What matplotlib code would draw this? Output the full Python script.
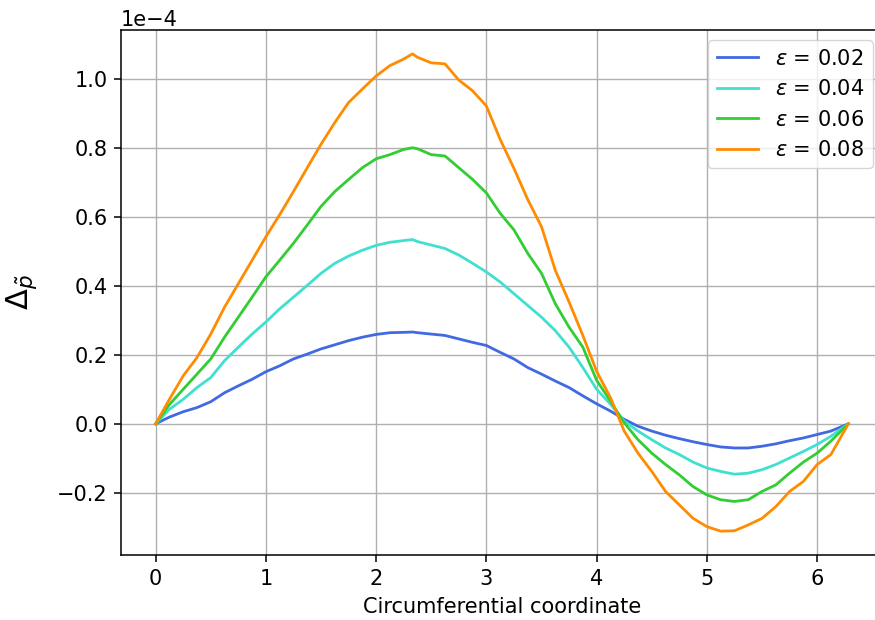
import numpy as np
import matplotlib
matplotlib.use("Agg")
import matplotlib.pyplot as plt

# circumferential coordinate samples
theta = [0.0, 0.125, 0.25, 0.375, 0.5, 0.625, 0.75, 0.875, 1.0, 1.125, 1.25, 1.375, 1.5,
         1.625, 1.75, 1.875, 2.0, 2.125, 2.25, 2.33, 2.375, 2.5, 2.625, 2.75, 2.875, 3.0,
         3.125, 3.25, 3.375, 3.5, 3.625, 3.75, 3.875, 4.0, 4.125, 4.25, 4.375, 4.5, 4.625,
         4.75, 4.875, 5.0, 5.125, 5.25, 5.375, 5.5, 5.625, 5.75, 5.875, 6.0, 6.125, 6.2832]

# values in units of 1e-4
eps_002 = [0.0, 0.0195, 0.035, 0.047, 0.064, 0.090, 0.110, 0.129, 0.151, 0.168, 0.188, 0.202, 0.217,
           0.229, 0.241, 0.251, 0.259, 0.264, 0.265, 0.266, 0.264, 0.260, 0.256, 0.246, 0.236, 0.227,
           0.207, 0.188, 0.163, 0.144, 0.124, 0.105, 0.081, 0.058, 0.037, 0.013, -0.007, -0.021, -0.033,
           -0.043, -0.052, -0.060, -0.067, -0.070, -0.070, -0.065, -0.058, -0.049, -0.041, -0.031, -0.021, 0.0]
eps_004 = [0.0, 0.042, 0.071, 0.105, 0.134, 0.183, 0.222, 0.260, 0.295, 0.333, 0.367, 0.401, 0.436,
           0.465, 0.486, 0.503, 0.517, 0.526, 0.531, 0.534, 0.528, 0.518, 0.508, 0.489, 0.465, 0.440,
           0.411, 0.377, 0.343, 0.309, 0.270, 0.222, 0.163, 0.100, 0.057, 0.008, -0.021, -0.046, -0.070,
           -0.089, -0.111, -0.128, -0.138, -0.146, -0.143, -0.133, -0.118, -0.099, -0.080, -0.060, -0.036, 0.0]
eps_006 = [0.0, 0.056, 0.100, 0.144, 0.188, 0.251, 0.309, 0.367, 0.426, 0.474, 0.523, 0.576, 0.630,
           0.673, 0.708, 0.742, 0.768, 0.780, 0.795, 0.800, 0.797, 0.780, 0.776, 0.742, 0.708, 0.669,
           0.610, 0.562, 0.494, 0.436, 0.348, 0.280, 0.222, 0.126, 0.066, 0.003, -0.046, -0.085, -0.118,
           -0.148, -0.182, -0.206, -0.220, -0.225, -0.220, -0.196, -0.177, -0.143, -0.111, -0.085, -0.050, 0.0]
eps_008 = [0.0, 0.071, 0.139, 0.192, 0.260, 0.338, 0.406, 0.474, 0.542, 0.606, 0.673, 0.742, 0.810,
           0.873, 0.931, 0.970, 1.008, 1.038, 1.057, 1.072, 1.062, 1.046, 1.043, 0.996, 0.965, 0.921,
           0.824, 0.740, 0.650, 0.571, 0.445, 0.353, 0.256, 0.152, 0.076, -0.021, -0.085, -0.138, -0.196,
           -0.235, -0.274, -0.298, -0.311, -0.310, -0.293, -0.274, -0.240, -0.196, -0.167, -0.118, -0.089, 0.0]

labels = [r"$\varepsilon$ = 0.02", r"$\varepsilon$ = 0.04", r"$\varepsilon$ = 0.06", r"$\varepsilon$ = 0.08"]
colors = ["royalblue", "turquoise", "limegreen", "darkorange"]
series = [eps_002, eps_004, eps_006, eps_008]
SCALE = 1e-4
FS = 15

plt.rcParams["font.family"] = ["DejaVu Sans"]
plt.rcParams["font.size"] = FS

fig = plt.figure(figsize=(8.75, 6.2), dpi=100)
ax = fig.add_axes([121 / 875, 65 / 620, 762 / 875, 525 / 620])

for vals, lab, col in zip(series, labels, colors):
    ax.plot(theta, np.array(vals) * SCALE, color=col, lw=2.0, label=lab)

ax.grid(True, color="#b0b0b0", lw=1.0)
ax.set_xlabel("Circumferential coordinate", fontsize=FS, labelpad=6)
ax.set_ylabel(r"$\Delta_{\tilde{p}}$", fontsize=22, labelpad=13)
ax.ticklabel_format(axis="y", style="sci", scilimits=(0, 0))
ax.set_xticks([0, 1, 2, 3, 4, 5, 6])
ax.set_yticks(np.array([-0.2, 0.0, 0.2, 0.4, 0.6, 0.8, 1.0]) * SCALE)
ax.tick_params(length=4.9, width=1.1, pad=4.9)
for s in ax.spines.values():
    s.set_linewidth(1.1)
ax.spines["right"].set_visible(False)
ax.legend(loc="upper right", fontsize=FS, borderaxespad=0.5)

fig.savefig("out.png", dpi=100)
